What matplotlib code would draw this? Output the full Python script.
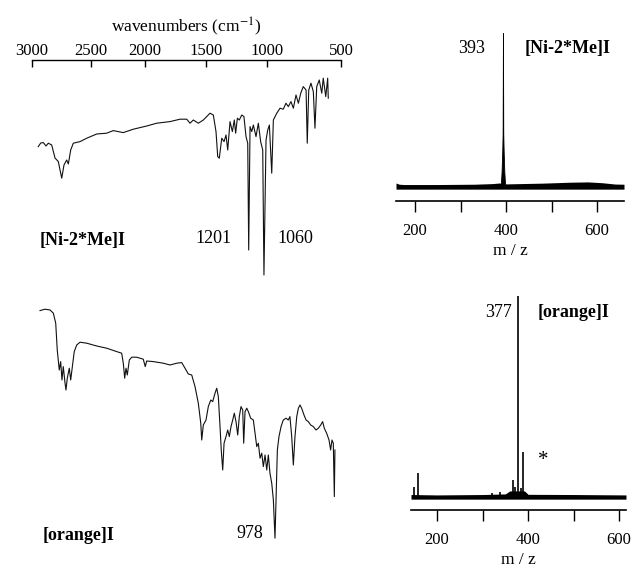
import numpy as np
import matplotlib
matplotlib.use("Agg")
import matplotlib.pyplot as plt
from matplotlib.ticker import MultipleLocator

plt.rcParams['font.family'] = ['Liberation Serif', 'DejaVu Serif']
plt.rcParams['mathtext.fontset'] = 'stix'

# IR spectrum of [Ni-2*Me]I (wavenumber in cm-1, transmittance in a.u.)
ir1_wn = [2947, 2926, 2904, 2881, 2862, 2833, 2805, 2777, 2748, 2729,
          2706, 2692, 2672, 2650, 2593, 2536, 2447, 2355, 2294, 2201,
          2108, 1986, 1904, 1795, 1713, 1658, 1631, 1604, 1563, 1522,
          1467, 1440, 1418, 1404, 1391, 1371, 1352, 1336, 1322, 1303,
          1284, 1268, 1257, 1243, 1227, 1207, 1189, 1172, 1158, 1150,
          1139, 1125, 1112, 1090, 1071, 1052, 1035, 1025, 1008, 995,
          984, 968, 957, 934, 912, 890, 872, 856, 838, 822,
          804, 788, 772, 755, 736, 728, 718, 703, 687, 676,
          664, 647, 630, 620, 603, 590, 586]
ir1_t = [71.7, 73.5, 73.7, 72.0, 73.4, 72.5, 66.0, 64.2, 55.9, 62.5,
         65.0, 63.0, 70.0, 73.4, 74.2, 75.9, 78.0, 78.4, 79.7, 78.7,
         80.4, 82.0, 83.4, 84.2, 85.4, 85.4, 83.4, 85.0, 83.4, 85.0,
         88.4, 87.5, 79.2, 66.7, 65.9, 75.9, 74.2, 77.5, 70.0, 84.2,
         79.2, 85.0, 78.4, 85.9, 85.0, 87.5, 86.7, 76.7, 73.4, 20.0,
         81.7, 79.2, 82.5, 76.7, 83.4, 74.2, 70.0, 7.5, 75.0, 80.0,
         82.5, 58.4, 85.0, 88.4, 90.9, 90.4, 93.4, 91.7, 94.2, 90.9,
         97.5, 93.4, 98.4, 101.7, 100.0, 73.4, 100.0, 103.4, 99.2, 80.9,
         101.7, 105.0, 98.4, 105.9, 96.7, 105.9, 95.9]

# IR spectrum of [orange]I
ir2_wn = [2932, 2890, 2847, 2819, 2799, 2786, 2769, 2757, 2746, 2735,
          2720, 2712, 2701, 2684, 2672, 2658, 2642, 2621, 2593, 2536,
          2447, 2355, 2262, 2216, 2201, 2188, 2176, 2164, 2145, 2123,
          2077, 2016, 1998, 1986, 1932, 1850, 1795, 1740, 1699, 1672,
          1645, 1617, 1590, 1563, 1543, 1535, 1522, 1500, 1481, 1461,
          1445, 1426, 1412, 1399, 1385, 1375, 1363, 1352, 1336, 1322,
          1309, 1295, 1281, 1268, 1254, 1240, 1227, 1213, 1199, 1191,
          1180, 1166, 1153, 1134, 1112, 1098, 1084, 1071, 1057, 1043,
          1030, 1016, 1002, 991, 980, 968, 957, 946, 939, 930,
          919, 905, 890, 872, 856, 845, 833, 822, 811, 799,
          788, 777, 766, 750, 736, 721, 705, 687, 669, 653,
          637, 624, 613, 597, 581, 570, 561, 552, 545, 541]
ir2_t = [124.7, 125.4, 125.0, 123.4, 118.4, 105.0, 95.0, 99.2, 90.0, 96.7,
         88.4, 85.0, 90.9, 95.9, 90.0, 96.7, 104.2, 107.5, 108.9, 108.4,
         107.0, 105.9, 104.2, 103.4, 98.4, 90.9, 95.9, 92.5, 100.0, 101.4,
         101.4, 100.4, 96.7, 99.5, 99.2, 98.4, 97.5, 98.4, 98.7, 95.9,
         93.0, 92.5, 86.7, 78.4, 68.4, 60.0, 67.5, 70.0, 76.7, 80.0,
         79.2, 83.4, 85.9, 81.7, 66.7, 55.0, 45.0, 58.4, 61.7, 65.0,
         61.7, 66.7, 70.0, 73.4, 69.2, 62.5, 71.7, 76.7, 75.0, 58.4,
         74.2, 75.9, 74.2, 70.9, 70.0, 63.4, 56.7, 58.4, 50.9, 53.4,
         46.7, 52.5, 45.0, 52.5, 43.4, 38.4, 30.0, 10.9, 30.0, 55.0,
         61.7, 66.7, 70.0, 70.9, 70.0, 71.7, 61.7, 47.5, 61.7, 71.7,
         75.9, 77.5, 75.9, 72.5, 70.0, 69.2, 67.5, 66.7, 65.0, 65.9,
         67.5, 69.2, 65.9, 63.4, 60.0, 55.0, 60.0, 58.4, 31.7, 55.0]

# mass spectrum of [Ni-2*Me]I: main peak profile and noise band
ms1_peak_mz = [388, 390, 391.5, 392.3, 393, 393.7, 394.5, 396, 398]
ms1_peak_int = [0, 10, 24, 35, 100, 35, 24, 10, 0]
ms1_base_mz = [158, 165, 175, 250, 330, 370, 385, 400, 430, 480, 540, 580, 610, 640, 659]
ms1_base_hi = [2.6, 1.8, 1.6, 1.6, 1.8, 2.2, 2.6, 2.0, 2.2, 2.5, 3.1, 3.3, 2.8, 1.9, 1.8]

# mass spectrum of [orange]I: peaks and noise band
ms2_mz = [149, 158, 321, 338, 367, 371, 377, 385, 389]
ms2_int = [5, 12, 2, 2.5, 8.5, 5, 100, 4.5, 22.4]
ms2_base_mz = [143, 200, 300, 350, 360, 392, 400, 500, 615]
ms2_base_hi = [1.2, 1.0, 1.2, 1.5, 3.0, 3.0, 1.3, 1.2, 1.0]

ir_ticks = [3000, 2500, 2000, 1500, 1000, 500]

# calibration of the (slightly non-linear) wavenumber axis of the original figure
cal_wn = np.array([0, 500, 1000, 1500, 2000, 2500, 3000, 4000])
cal_pos = np.array([-74, 0, 74, 135, 196, 250, 309, 427])


def fwd(w):
    return np.interp(w, cal_wn, cal_pos)


def inv(p):
    return np.interp(p, cal_pos, cal_wn)


W, H = 638, 573
fig = plt.figure(figsize=(W / 100, H / 100), dpi=100)


def add_ax(left, top, right, bottom):
    return fig.add_axes([left / W, 1 - bottom / H, (right - left) / W, (bottom - top) / H])


def bare(ax):
    for s in ax.spines.values():
        s.set_visible(False)
    ax.set_yticks([])
    ax.patch.set_visible(False)


line_kw = dict(color='#111111', lw=0.8)
txt = 13

# --- IR top ---
ax1 = add_ax(32, 60, 341, 290)
bare(ax1)
ax1.set_xscale('function', functions=(fwd, inv))
ax1.set_xlim(3000, 500)
ax1.set_ylim(0, 115)
ax1.spines['top'].set_visible(True)
ax1.spines['top'].set_linewidth(1.0)
ax1.xaxis.tick_top()
ax1.xaxis.set_label_position('top')
ax1.set_xticks(ir_ticks)
ax1.set_xticklabels([str(t) for t in ir_ticks])
ax1.tick_params(axis='x', direction='in', length=5, width=1.0, pad=0.5, labelsize=12)
ax1.set_xlabel('wavenumbers (cm$^{-1}$)', fontsize=12.5, labelpad=8)
ax1.plot(ir1_wn, ir1_t, **line_kw)
ax1.text(2932, 25, '[Ni-2*Me]I', fontsize=txt, fontweight='bold', ha='left', va='center')
ax1.text(1287, 26, '1201', fontsize=txt, ha='right', va='center')
ax1.text(932, 26, '1060', fontsize=txt, ha='left', va='center')

# --- IR bottom ---
ax2 = add_ax(32, 300, 341, 560)
bare(ax2)
ax2.set_xscale('function', functions=(fwd, inv))
ax2.set_xlim(3000, 500)
ax2.set_ylim(0, 130)
ax2.set_xticks([])
ax2.plot(ir2_wn, ir2_t, **line_kw)
ax2.text(2907, 12.5, '[orange]I', fontsize=txt, fontweight='bold', ha='left', va='center')
ax2.text(1139, 13.5, '978', fontsize=txt, ha='center', va='center')


def ms_axis(ax, xlim, ylim):
    bare(ax)
    ax.spines['bottom'].set_visible(True)
    ax.spines['bottom'].set_linewidth(1.2)
    ax.set_xlim(*xlim)
    ax.set_ylim(*ylim)
    ax.xaxis.set_major_locator(MultipleLocator(200))
    ax.xaxis.set_minor_locator(MultipleLocator(100))
    ax.tick_params(axis='x', which='both', direction='out', length=8, width=1.0)
    ax.tick_params(axis='x', which='major', pad=8, labelsize=12)
    ax.set_xlabel('m / z', fontsize=12.5, labelpad=3)


# --- MS top ---
ax3 = add_ax(396, 30, 624, 201)
ms_axis(ax3, (158, 659), (-9.1, 102))
ax3.fill_between(ms1_base_mz, -1.4, ms1_base_hi, color='black', lw=0)
ax3.fill_between(ms1_peak_mz, 0, ms1_peak_int, color='black', lw=0.6)
ax3.text(354, 90, '393', fontsize=txt, ha='right', va='center')
ax3.text(440, 90, '[Ni-2*Me]I', fontsize=txt, fontweight='bold', ha='left', va='center')

# --- MS bottom ---
ax4 = add_ax(411, 290, 626, 510)
ms_axis(ax4, (143, 615), (-6.5, 103))
ax4.fill_between(ms2_base_mz, -1.1, ms2_base_hi, color='black', lw=0)
ax4.vlines(ms2_mz, 0, ms2_int, color='black', lw=1.2)
ax4.text(365, 92, '377', fontsize=txt, ha='right', va='center')
ax4.text(422, 92, '[orange]I', fontsize=txt, fontweight='bold', ha='left', va='center')
ax4.text(433, 18, '*', fontsize=txt + 2, ha='center', va='center')

fig.savefig('out.png', dpi=100)
